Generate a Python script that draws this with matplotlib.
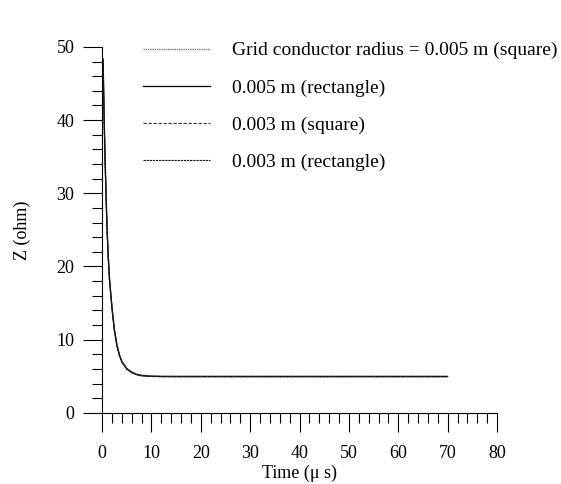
import matplotlib
matplotlib.use('Agg')
from matplotlib import pyplot as plt

plt.rcParams['font.family'] = ['Liberation Serif', 'DejaVu Serif']

# data
t = [0.2, 0.4, 0.6, 0.8, 1.0, 1.25, 1.5, 2.0, 2.5, 3.0, 3.5, 4.0, 5.0, 6.0, 7.0,
     8.0, 10, 12, 15, 20, 30, 40, 50, 60, 70]
z_r005_sq = [48.5, 41.0, 35.0, 30.0, 25.5, 21.5, 18.5, 14.5, 11.4, 9.4, 8.0, 7.1, 6.1, 5.6, 5.3,
             5.15, 5.05, 5.0, 5.0, 5.0, 5.0, 5.0, 5.0, 5.0, 5.0]
z_r005_rect = [48.3, 40.8, 34.8, 29.8, 25.3, 21.3, 18.3, 14.4, 11.3, 9.3, 7.9, 7.0, 6.0, 5.55, 5.25,
               5.1, 5.0, 4.98, 4.97, 4.97, 4.97, 4.97, 4.97, 4.97, 4.97]
z_r003_sq = [48.0, 40.6, 34.7, 29.7, 25.2, 21.2, 18.2, 14.3, 11.2, 9.2, 7.9, 7.0, 6.0, 5.5, 5.25,
             5.1, 5.0, 4.96, 4.95, 4.95, 4.95, 4.95, 4.95, 4.95, 4.95]
z_r003_rect = [47.8, 40.4, 34.5, 29.5, 25.0, 21.0, 18.0, 14.2, 11.1, 9.1, 7.8, 6.9, 5.95, 5.5, 5.2,
               5.05, 4.97, 4.94, 4.93, 4.93, 4.93, 4.93, 4.93, 4.93, 4.93]
labels = ['Grid conductor radius = 0.005 m (square)', '0.005 m (rectangle)',
          '0.003 m (square)', '0.003 m (rectangle)']

fig = plt.figure(figsize=(5.61, 4.84), dpi=100)
ax = fig.add_axes([0.182, 0.147, 0.704, 0.756])

ax.plot(t, z_r005_sq, color='#777777', lw=1.0, ls=(0, (1, 0.6)), label=labels[0])
ax.plot(t, z_r005_rect, color='black', lw=0.9, ls='-', label=labels[1])
ax.plot(t, z_r003_sq, color='#333333', lw=0.8, ls=(0, (3, 1.5)), label=labels[2])
ax.plot(t, z_r003_rect, color='#111111', lw=0.8, ls=(0, (2, 0.8)), label=labels[3])

ax.set_xlim(0, 80)
ax.set_ylim(0, 50)
ax.set_xticks(range(0, 81, 10))
ax.set_yticks(range(0, 51, 10))
ax.set_xticks(range(0, 81, 2), minor=True)
ax.set_yticks(range(0, 51, 2), minor=True)
ax.tick_params(which='major', direction='out', length=14, width=0.8, labelsize=13, colors='black')
ax.tick_params(which='minor', direction='out', length=7, width=0.8)
ax.tick_params(axis='x', which='major', pad=9)
ax.tick_params(axis='y', which='major', pad=6)

for s in ['top', 'right']:
    ax.spines[s].set_visible(False)
for s in ['left', 'bottom']:
    ax.spines[s].set_linewidth(0.8)

ax.set_xlabel('Time (μ s)', fontsize=13, labelpad=2)
ax.set_ylabel('Z (ohm)', fontsize=13, labelpad=18)

ax.legend(loc='upper left', bbox_to_anchor=(0.104, 1.014), frameon=False, fontsize=14,
          borderpad=0, borderaxespad=0, handlelength=3.45, handletextpad=1.1,
          labelspacing=1.0)

plt.savefig('out.png', dpi=100)
